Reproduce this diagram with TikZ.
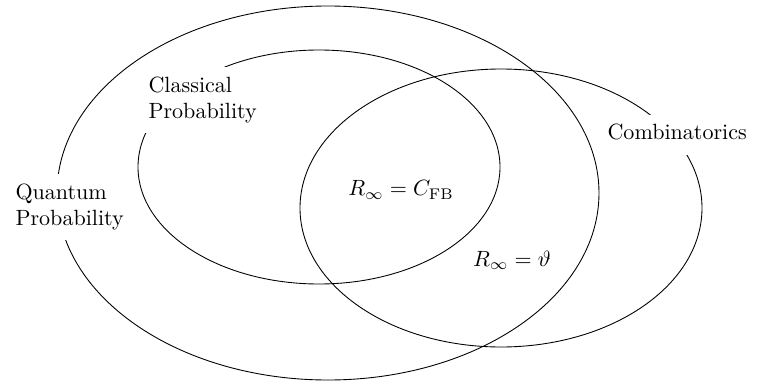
\documentclass[tikz,border=0pt]{standalone}
\begin{document}
\begin{tikzpicture}[x=0.4535pt,y=-0.4535pt,
  setcirc/.style={draw,line width=0.4pt},
  lbl/.style={fill=white,align=left,inner sep=3pt,anchor=west}]
\useasboundingbox (0,0) rectangle (760,381);
\draw[setcirc] (328,193) ellipse [x radius=271,y radius=187];
\draw[setcirc] (319,167) ellipse [x radius=181,y radius=117];
\draw[setcirc] (501,208) ellipse [x radius=201,y radius=139];
\node[lbl] (qp) at (8.5,207) {Quantum\strut\\Probability\strut};
\node[lbl] (cp) at (141.5,100) {Classical\strut\\Probability\strut};
\node[lbl] (co) at (600.5,134.7) {Combinatorics\strut};
\node (cfb) at (401,190) {$R_\infty = C_{\mathrm{FB}}$};
\node (th) at (512,260) {$R_\infty = \vartheta$};
\end{tikzpicture}
\end{document}
